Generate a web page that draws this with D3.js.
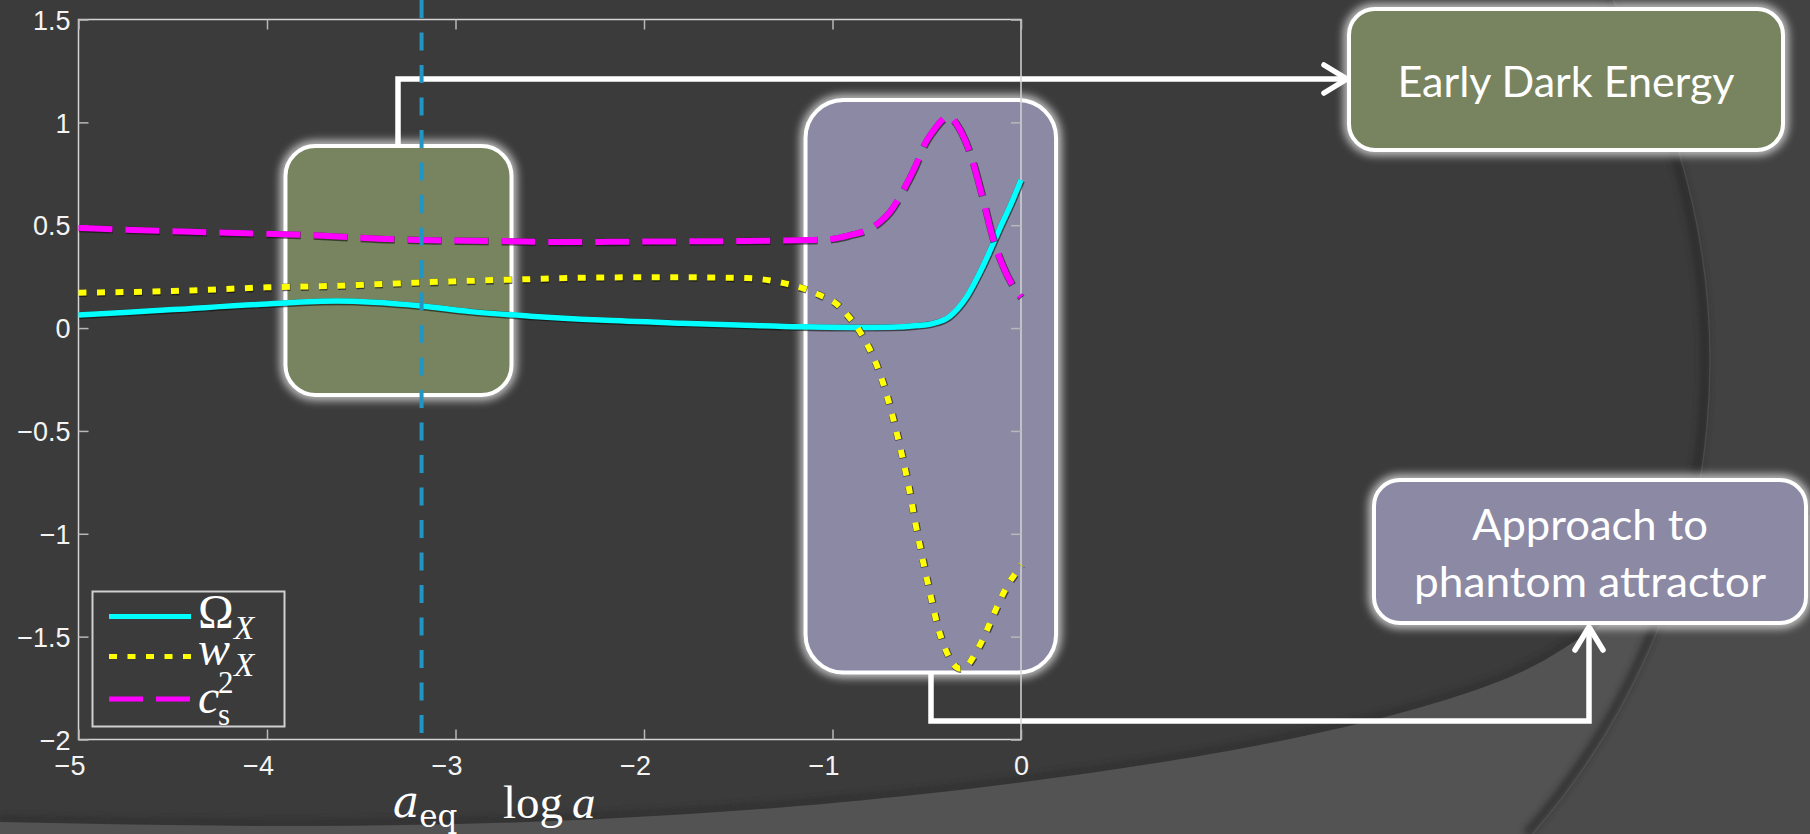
<!DOCTYPE html>
<html>
<head>
<meta charset="utf-8">
<script src="https://cdn.jsdelivr.net/npm/d3@7"></script>
<style>
  html, body { margin: 0; padding: 0; background: #3b3b3b; overflow: hidden; }
  svg { display: block; }
</style>
</head>
<body>
<svg id="fig" width="1810" height="834"></svg>
<script>
// ---- data: dark-energy fraction, equation of state and sound speed vs log a ----
const logA_omega = [-5, -4.5, -4, -3.63, -3.19, -2.92, -2.6, -2.23, -1.8, -1.5, -1.17, -0.9, -0.7, -0.55, -0.47, -0.38, -0.29, -0.2, -0.11, -0.05, 0];
const omegaX     = [0.063, 0.09, 0.117, 0.131, 0.108, 0.08, 0.058, 0.039, 0.024, 0.015, 0.006, 0.003, 0.004, 0.012, 0.022, 0.056, 0.15, 0.305, 0.49, 0.61, 0.72];

const logA_w = [-5, -4.5, -4, -3.63, -3.19, -2.92, -2.6, -2.23, -1.8, -1.455, -1.252, -1.155, -1.066, -0.978, -0.911, -0.854, -0.805, -0.769, -0.734, -0.683, -0.637, -0.596, -0.561, -0.524, -0.483, -0.439, -0.408, -0.368, -0.325, -0.288, -0.235, -0.191, -0.152, -0.115, -0.071, -0.018, 0];
const wX     = [0.172, 0.18, 0.198, 0.206, 0.222, 0.23, 0.238, 0.246, 0.247, 0.243, 0.217, 0.193, 0.16, 0.117, 0.052, -0.018, -0.099, -0.172, -0.261, -0.423, -0.596, -0.771, -0.945, -1.115, -1.287, -1.46, -1.545, -1.622, -1.655, -1.642, -1.569, -1.489, -1.406, -1.329, -1.249, -1.176, -1.15];

const logA_cs = [-5, -4.81, -4.28, -3.79, -3.316, -3.065, -2.78, -2.37, -2.057, -1.526, -1.102, -0.996, -0.907, -0.818, -0.748, -0.695, -0.615, -0.562, -0.509, -0.456, -0.42, -0.386, -0.341, -0.3, -0.25, -0.2, -0.15, -0.1, -0.05, 0];
const cs2     = [0.487, 0.48, 0.465, 0.452, 0.431, 0.426, 0.423, 0.418, 0.42, 0.423, 0.428, 0.434, 0.452, 0.476, 0.517, 0.565, 0.687, 0.784, 0.898, 0.971, 1.01, 1.03, 0.99, 0.92, 0.79, 0.62, 0.44, 0.31, 0.215, 0.15];

// matter-radiation equality
const logA_eq = -3.18;

// axis ticks
const xTicks = [-5, -4, -3, -2, -1, 0];
const xTickLabels = ["\u22125", "\u22124", "\u22123", "\u22122", "\u22121", "0"];
const yTicks = [-2, -1.5, -1, -0.5, 0, 0.5, 1, 1.5];
const yTickLabels = ["\u22122", "\u22121.5", "\u22121", "\u22120.5", "0", "0.5", "1", "1.5"];

// highlighted epochs in (log a, value) space
const earlyRegion   = { x0: -3.902, x1: -2.703, y0: -0.325, y1: 0.885 };
const phantomRegion = { x0: -1.143, x1: 0.186,  y0: -1.674, y1: 1.109 };

// ---- layout ----
const W = 1810, H = 834;
const plot = { left: 78.5, right: 1021, top: 19.5, bottom: 739.5 };
const x = d3.scaleLinear().domain([-5, 0]).range([plot.left, plot.right]);
const y = d3.scaleLinear().domain([-2, 1.5]).range([plot.bottom, plot.top]);

const svg = d3.select("#fig");
const defs = svg.append("defs");
defs.append("filter").attr("id", "glow")
  .attr("x", "-20%").attr("y", "-20%").attr("width", "140%").attr("height", "140%")
  .append("feGaussianBlur").attr("stdDeviation", 4);
defs.append("filter").attr("id", "soft")
  .attr("x", "-10%").attr("y", "-10%").attr("width", "120%").attr("height", "120%")
  .append("feGaussianBlur").attr("stdDeviation", 3);
defs.append("filter").attr("id", "lineShadow")
  .append("feGaussianBlur").attr("stdDeviation", 0.5);

// ---- slide background with sweeping arcs ----
const bg = svg.append("g");
bg.append("rect").attr("width", W).attr("height", H).attr("fill", "#3b3b3b");

const ring = { cx: 990, cy: 361, r: 720 };
const ringTop = [ring.cx + Math.sqrt(ring.r * ring.r - ring.cy * ring.cy), 0];
const ringBot = [ring.cx + Math.sqrt(ring.r * ring.r - (H - ring.cy) * (H - ring.cy)), H];
const ringArc = `M${ringTop[0]},${ringTop[1]} A${ring.r},${ring.r} 0 0,1 ${ringBot[0]},${ringBot[1]}`;
const outerPath = ringArc + ` L${W},${H} L${W},0 Z`;

defs.append("clipPath").attr("id", "outerClip").append("path").attr("d", outerPath);
bg.append("path").attr("d", outerPath).attr("fill", "#424242");

const floorEdge = [[0, 822], [300, 826], [600, 819], [923, 794], [1270, 743], [1500, 681], [1593, 630], [1700, 575], [1810, 515]];
const edgeLine = d3.line().curve(d3.curveNatural);
const floorPath = edgeLine(floorEdge) + ` L${W},${H} L0,${H} Z`;
bg.append("path").attr("d", edgeLine(floorEdge)).attr("fill", "none")
  .attr("stroke", "#2c2c2c").attr("stroke-width", 6).attr("opacity", 0.7)
  .attr("transform", "translate(0,-3)").attr("filter", "url(#soft)");
bg.append("path").attr("d", floorPath).attr("fill", "#535353");
bg.append("path").attr("d", floorPath).attr("fill", "#4b4b4b").attr("clip-path", "url(#outerClip)");

// shading along the ring edge
const innerArc = (() => {
  const r = ring.r - 5;
  const t = [ring.cx + Math.sqrt(r * r - ring.cy * ring.cy), 0];
  const b = [ring.cx + Math.sqrt(r * r - (H - ring.cy) * (H - ring.cy)), H];
  return `M${t[0]},${t[1]} A${r},${r} 0 0,1 ${b[0]},${b[1]}`;
})();
bg.append("path").attr("d", innerArc).attr("fill", "none")
  .attr("stroke", "#2a2a2a").attr("stroke-width", 9).attr("opacity", 0.75).attr("filter", "url(#soft)");
bg.append("path").attr("d", ringArc).attr("fill", "none")
  .attr("stroke", "#5c5c5c").attr("stroke-width", 1.5).attr("opacity", 0.5);

// ---- rounded boxes ----
function roundedBox(g, bx, by, bw, bh, r, fill) {
  g.append("rect").attr("x", bx).attr("y", by).attr("width", bw).attr("height", bh)
    .attr("rx", r).attr("ry", r).attr("fill", "none")
    .attr("stroke", "#dcdcdc").attr("stroke-width", 11).attr("opacity", 0.85)
    .attr("filter", "url(#glow)");
  g.append("rect").attr("x", bx).attr("y", by).attr("width", bw).attr("height", bh)
    .attr("rx", r).attr("ry", r).attr("fill", fill)
    .attr("stroke", "#ffffff").attr("stroke-width", 4);
}

const green = "#77845f", purple = "#8c89a4";
const boxes = svg.append("g");
const eR = { x: x(earlyRegion.x0), y: y(earlyRegion.y1), w: x(earlyRegion.x1) - x(earlyRegion.x0), h: y(earlyRegion.y0) - y(earlyRegion.y1) };
const pR = { x: x(phantomRegion.x0), y: y(phantomRegion.y1), w: x(phantomRegion.x1) - x(phantomRegion.x0), h: y(phantomRegion.y0) - y(phantomRegion.y1) };
roundedBox(boxes, eR.x, eR.y, eR.w, eR.h, 30, green);
roundedBox(boxes, pR.x, pR.y, pR.w, pR.h, 38, purple);

const edeBox = { x: 1349, y: 9, w: 434, h: 141 };
const phBox  = { x: 1374, y: 480, w: 432, h: 143 };
roundedBox(boxes, edeBox.x, edeBox.y, edeBox.w, edeBox.h, 26, green);
roundedBox(boxes, phBox.x, phBox.y, phBox.w, phBox.h, 26, purple);

const labelFont = "Lato, 'Open Sans', sans-serif";
boxes.append("text").attr("x", edeBox.x + edeBox.w / 2).attr("y", 97)
  .attr("text-anchor", "middle").attr("font-family", labelFont).attr("font-size", 42)
  .attr("fill", "#ffffff").attr("textLength", 337).attr("lengthAdjust", "spacingAndGlyphs")
  .text("Early Dark Energy");
boxes.append("text").attr("x", phBox.x + phBox.w / 2).attr("y", 540)
  .attr("text-anchor", "middle").attr("font-family", labelFont).attr("font-size", 42)
  .attr("fill", "#ffffff").attr("textLength", 236).attr("lengthAdjust", "spacingAndGlyphs")
  .text("Approach to");
boxes.append("text").attr("x", phBox.x + phBox.w / 2).attr("y", 597)
  .attr("text-anchor", "middle").attr("font-family", labelFont).attr("font-size", 42)
  .attr("fill", "#ffffff").attr("textLength", 352).attr("lengthAdjust", "spacingAndGlyphs")
  .text("phantom attractor");

// ---- connectors ----
const conn = svg.append("g").attr("fill", "none").attr("stroke", "#ffffff")
  .attr("stroke-width", 5.5);
const eStartX = 398, connY1 = 79, tip1 = edeBox.x - 2;
conn.append("path").attr("d", `M${eStartX},${eR.y} V${connY1} H${tip1}`).attr("stroke-linejoin", "miter");
conn.append("path").attr("d", `M${tip1 - 23},${connY1 - 14} L${tip1},${connY1} L${tip1 - 23},${connY1 + 14}`)
  .attr("stroke-linecap", "round").attr("stroke-linejoin", "round");
const pStartX = 931, connY2 = 721, upX = 1589, tip2 = phBox.y + phBox.h + 4;
conn.append("path").attr("d", `M${pStartX},${pR.y + pR.h} V${connY2} H${upX} V${tip2}`).attr("stroke-linejoin", "miter");
conn.append("path").attr("d", `M${upX - 14},${tip2 + 23} L${upX},${tip2} L${upX + 14},${tip2 + 23}`)
  .attr("stroke-linecap", "round").attr("stroke-linejoin", "round");

// ---- axes ----
const axisColor = "#d4d4d4";
const tickFont = "'Liberation Sans', Arial, Helvetica, sans-serif";
const ax = svg.append("g");
ax.append("rect").attr("x", plot.left).attr("y", plot.top)
  .attr("width", plot.right - plot.left).attr("height", plot.bottom - plot.top)
  .attr("fill", "none").attr("stroke", axisColor).attr("stroke-width", 1.5);

function styleAxis(g, hideText) {
  g.select(".domain").remove();
  g.selectAll(".tick line").attr("stroke", "#b8b8b8").attr("stroke-width", 1.5);
  g.selectAll(".tick text").attr("fill", "#f4f4f4").attr("font-family", tickFont).attr("font-size", 27);
  if (hideText) g.selectAll(".tick text").remove();
}

const xAxis = ax.append("g").attr("transform", `translate(0,${plot.bottom})`)
  .call(d3.axisBottom(x).tickValues(xTicks).tickSize(-10).tickPadding(16)
    .tickFormat((d, i) => xTickLabels[i]));
styleAxis(xAxis, false);
xAxis.selectAll(".tick text").attr("dx", d => d < 0 ? -9 : 0);

const xTop = ax.append("g").attr("transform", `translate(0,${plot.top})`)
  .call(d3.axisTop(x).tickValues(xTicks).tickSize(-10).tickFormat(""));
styleAxis(xTop, true);

const yAxis = ax.append("g").attr("transform", `translate(${plot.left},0)`)
  .call(d3.axisLeft(y).tickValues(yTicks).tickSize(-10).tickPadding(8)
    .tickFormat((d, i) => yTickLabels[i]));
styleAxis(yAxis, false);
yAxis.selectAll(".tick text").attr("dy", "0.36em");

const yRight = ax.append("g").attr("transform", `translate(${plot.right},0)`)
  .call(d3.axisRight(y).tickValues(yTicks).tickSize(-10).tickFormat(""));
styleAxis(yRight, true);

// ---- curves ----
const series = [
  { key: "omega", xs: logA_omega, ys: omegaX, color: "#00ffff", width: 5.5, dash: null },
  { key: "w",     xs: logA_w,     ys: wX,     color: "#ffff00", width: 6,   dash: "8,10.5" },
  { key: "cs2",   xs: logA_cs,    ys: cs2,    color: "#ff00ff", width: 6,   dash: "34,13" }
];
const line = d3.line().x(d => x(d[0])).y(d => y(d[1])).curve(d3.curveMonotoneX);
const curves = svg.append("g");
series.forEach(s => {
  const pts = s.xs.map((v, i) => [v, s.ys[i]]);
  curves.append("path").attr("d", line(pts)).attr("fill", "none")
    .attr("stroke", "#111111").attr("stroke-width", s.width + 1.5).attr("opacity", 0.6)
    .attr("stroke-dasharray", s.dash).attr("transform", "translate(0.5,0.6)")
    .attr("filter", "url(#lineShadow)");
  curves.append("path").attr("d", line(pts)).attr("fill", "none")
    .attr("stroke", s.color).attr("stroke-width", s.width)
    .attr("stroke-dasharray", s.dash);
});

// equality marker
svg.append("line")
  .attr("x1", x(logA_eq)).attr("x2", x(logA_eq))
  .attr("y1", 0).attr("y2", y(-2) - 3)
  .attr("stroke", "#2196c4").attr("stroke-width", 4).attr("stroke-dasharray", "18,14.5");

// ---- legend ----
const leg = svg.append("g");
leg.append("rect").attr("x", 92.5).attr("y", 591.5).attr("width", 192).attr("height", 135)
  .attr("fill", "#3b3b3b").attr("stroke", "#d0d0d0").attr("stroke-width", 2);
const legRows = [616.5, 656.5, 699];
series.forEach((s, i) => {
  leg.append("line").attr("x1", 109).attr("x2", 191).attr("y1", legRows[i]).attr("y2", legRows[i])
    .attr("stroke", s.color).attr("stroke-width", 5).attr("stroke-dasharray", s.dash);
});
const mathFont = "'Liberation Serif', 'Times New Roman', serif";
// all legend symbols in one text block, each piece placed absolutely
const legText = leg.append("text").attr("font-family", mathFont).attr("fill", "#ffffff");
legText.append("tspan").attr("x", 198).attr("y", 628).attr("font-size", 48).text("\u03A9");
legText.append("tspan").attr("x", 234).attr("y", 639).attr("font-size", 33).attr("font-style", "italic").text("X");
legText.append("tspan").attr("x", 198).attr("y", 665).attr("font-size", 48).attr("font-style", "italic").text("w");
legText.append("tspan").attr("x", 234).attr("y", 676).attr("font-size", 33).attr("font-style", "italic").text("X");
legText.append("tspan").attr("x", 198).attr("y", 713).attr("font-size", 48).attr("font-style", "italic").text("c");
legText.append("tspan").attr("x", 218).attr("y", 693).attr("font-size", 31).text("2");
legText.append("tspan").attr("x", 218).attr("y", 725).attr("font-size", 31).text("s");

// ---- axis labels ----
const xl = svg.append("text").attr("x", 503).attr("y", 818).attr("font-family", mathFont).attr("fill", "#ffffff").attr("font-size", 47);
xl.append("tspan").text("log");
xl.append("tspan").attr("font-style", "italic").attr("dx", 9).text("a");

const eqLabel = svg.append("text").attr("x", 393).attr("y", 817).attr("font-family", "'DejaVu Serif', serif").attr("fill", "#ffffff");
eqLabel.append("tspan").attr("font-size", 44).attr("font-style", "italic").text("a");
eqLabel.append("tspan").attr("font-size", 31).attr("dy", 10).text("eq");
</script>
</body>
</html>
